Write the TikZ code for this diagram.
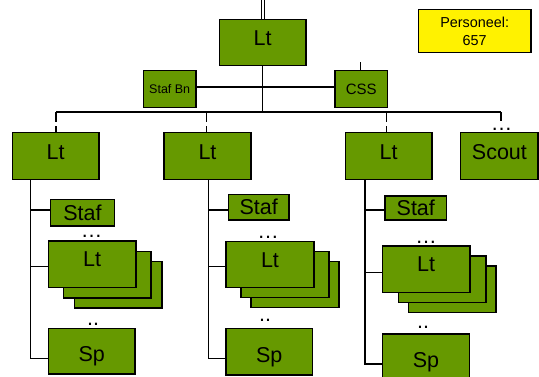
\documentclass[tikz,border=0pt]{standalone}
\usepackage{fontspec}
\setmainfont{Liberation Sans}
\definecolor{boxgreen}{RGB}{102,153,0}
\begin{document}
\begin{tikzpicture}[x=1pt,y=-1pt,
  box/.style={draw=black,line width=1.4pt,fill=boxgreen,inner sep=0pt,font=\fontsize{21.5}{24}\selectfont},
  ltext/.style={text height=15.5pt,text depth=8pt},
  toptext/.style={text height=15.5pt,text depth=10pt},
  sptext/.style={text height=21pt,text depth=0pt},
  conn/.style={line width=1.3pt,draw=black},
  drop/.style={conn,dash pattern=on 10pt off 4pt on 20pt},
  dots/.style={anchor=base,inner sep=0pt,text height=3pt,text depth=0pt,font=\fontsize{21.5}{24}\selectfont}]
\useasboundingbox (0,0) rectangle (539,376);

% top
\node[box,toptext,minimum width=86.7pt,minimum height=46.4pt] (top) at (262.7,42.5) {Lt};
\draw[conn] ([xshift=-1.5pt]top.north) -- ++(0,-19.3);
\draw[conn] ([xshift=1.8pt]top.north) -- ++(0,-19.3);
\node[box,font=\fontsize{12.5}{14}\selectfont,minimum width=52.7pt,minimum height=36.6pt] (stafbn) at (169.7,89) {Staf Bn};
\node[box,font=\fontsize{15}{17}\selectfont,minimum width=52.3pt,minimum height=36.6pt] (css) at (361.2,89) {CSS};
\draw[conn] ([xshift=-1pt]css.north) -- ++(0,-8);
\draw[conn] ([yshift=2pt]stafbn.east) -- ([yshift=2pt]css.west);

% personeel
\node[draw,line width=1.3pt,fill=yellow,minimum width=112.7pt,minimum height=43.4pt,align=center,inner sep=0pt,font=\fontsize{14.4}{17.7}\selectfont] (pers) at (474.7,31) {Personeel:\\657};

% bus
\coordinate (bm) at (262.7,112);
\coordinate (b1) at (56,112);
\coordinate (b2) at (206.7,112);
\coordinate (b3) at (386.7,112);
\coordinate (b4) at (501,112);
\draw[conn] (top.south) -- (bm);
\draw[conn] (b1) -- (b4);

% second level
\node[box,ltext,minimum width=86.7pt,minimum height=46.7pt] (c1) at (55.7,156) {Lt};
\node[box,ltext,minimum width=86.7pt,minimum height=46.7pt] (c2) at (207.5,156) {Lt};
\node[box,ltext,minimum width=86.7pt,minimum height=46.7pt] (c3) at (388.7,156) {Lt};
\node[box,ltext,minimum width=77.3pt,minimum height=46.7pt] (sc) at (499.4,156) {Scout};
\draw[drop] (b1) -- (b1 |- c1.north);
\draw[drop] (b2) -- (b2 |- c2.north);
\draw[drop] (b3) -- (b3 |- c3.north);
\coordinate (b4e) at (501,121);
\draw[conn] (b4) -- (b4e);
\node[dots] (d0) at (501.7,130) {…};

% column 1
\coordinate (v1) at (30.7,179.3);
\node[box,minimum width=63.6pt,minimum height=26.7pt] (s1) at (82.5,212.7) {Staf};
\node[box,minimum width=87.7pt,minimum height=46.3pt] (l1c) at (118.2,284.7) {};
\node[box,minimum width=87.7pt,minimum height=46.3pt] (l1b) at (107.2,274.7) {};
\node[box,toptext,minimum width=87.7pt,minimum height=46.3pt] (l1a) at (92.2,264.2) {Lt};
\node[box,sptext,minimum width=86.7pt,minimum height=45.7pt] (p1) at (91.7,351.2) {Sp};
\draw[conn] (v1) |- ([yshift=2.7pt]s1.west);
\draw[conn] (v1) |- ([yshift=-2.5pt]l1a.west);
\draw[conn] (v1) |- ([yshift=-7.1pt]p1.west);
\node[dots] (d1a) at (91.7,237.5) {…};
\node[dots] (d1b) at (93,325) {..};

% column 2
\coordinate (v2) at (208.3,179.3);
\node[box,minimum width=60.7pt,minimum height=25.7pt] (s2) at (258.7,207.2) {Staf};
\node[box,minimum width=88pt,minimum height=45.6pt] (l2c) at (295,284.5) {};
\node[box,minimum width=88pt,minimum height=45.6pt] (l2b) at (285,274.5) {};
\node[box,toptext,minimum width=88pt,minimum height=45.6pt] (l2a) at (270,264.5) {Lt};
\node[box,sptext,minimum width=86.7pt,minimum height=46.7pt] (p2) at (269.3,351.7) {Sp};
\draw[conn] (v2) |- ([yshift=-2.8pt]s2.west);
\draw[conn] (v2) |- ([yshift=-2.2pt]l2a.west);
\draw[conn] (v2) |- ([yshift=-6.6pt]p2.west);
\node[dots] (d2a) at (268,238) {…};
\node[dots] (d2b) at (265,321) {..};

% column 3
\coordinate (v3) at (365,179.3);
\node[box,minimum width=61.7pt,minimum height=24pt] (s3) at (415.8,208) {Staf};
\node[box,minimum width=87.7pt,minimum height=46.3pt] (l3c) at (452.2,289.2) {};
\node[box,minimum width=87.7pt,minimum height=46.3pt] (l3b) at (442.2,279.2) {};
\node[box,toptext,minimum width=87.7pt,minimum height=46.3pt] (l3a) at (426.2,269.2) {Lt};
\node[box,sptext,minimum width=86.6pt,minimum height=46pt] (p3) at (426,357) {Sp};
\draw[conn] (v3) |- ([yshift=-2pt]s3.west);
\draw[conn] (v3) |- ([yshift=-3.1pt]l3a.west);
\draw[conn] (v3) |- ([yshift=-7pt]p3.west);
\node[dots] (d3a) at (426,243) {…};
\node[dots] (d3b) at (423,328) {..};
\end{tikzpicture}
\end{document}
